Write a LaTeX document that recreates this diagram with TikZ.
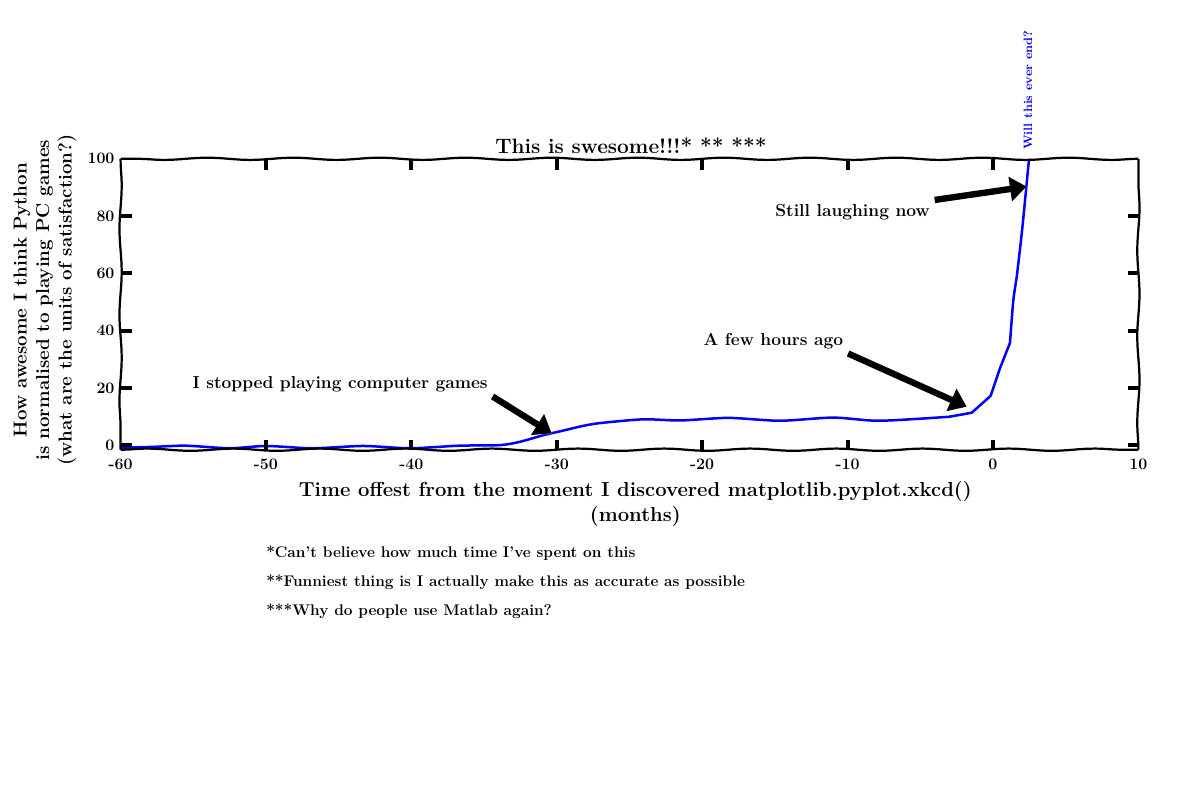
\documentclass[tikz,border=0pt]{standalone}
\usepackage{fontspec}
\usepackage{tikz}
\usetikzlibrary{arrows.meta, decorations.pathmorphing}
\definecolor{plotblue}{HTML}{0000FF}

\begin{document}
\begin{tikzpicture}[x=10.469pt, y=2.0635pt,
  spine/.style={line width=1.6pt, decorate, decoration={snake, amplitude=0.8pt, segment length=62pt}},
  tickbar/.style={line width=2.9pt},
  ticklbl/.style={font=\fontsize{11.5}{13}\selectfont\bfseries, inner sep=0pt},
  note/.style={font=\fontsize{12.5}{14}\selectfont\bfseries, anchor=base},
  foot/.style={font=\fontsize{11.1}{12}\selectfont\bfseries, anchor=base west, inner sep=0pt},
  fatarrow/.style={line width=4.6pt, -{Triangle[length=12pt,width=17pt]},
    preaction={draw=white, line width=7.5pt, -{Triangle[length=14pt,width=21pt]}}}]
\useasboundingbox (-68.294,-123.73) rectangle (14.237,155.41);
% curve
\draw[plotblue, line width=1.8pt, line join=round] plot[smooth, tension=0.45] coordinates {
  (-60,-0.8) (-57.7,-0.5) (-55.5,-0.1) (-52.5,-1.0) (-50,-0.2) (-46.8,-1.0) (-43.3,-0.2)
  (-40.1,-1.0) (-36.7,-0.1) (-33.9,0.1) (-32.5,1.3) (-30.9,3.6) (-29.7,5.0) (-28.2,6.8)
  (-27,7.8) (-24.05,9.1) (-21.5,8.7) (-18.2,9.6) (-14.65,8.6) (-11,9.7) (-7.8,8.6)
  (-3.0,10)} -- (-1.46,11.4) -- (-0.16,17.3) -- (0.48,26.9) -- (1.17,35.8)
  -- plot[smooth, tension=0.45] coordinates {(1.17,35.8) (1.4,50.7) (1.65,59.5)
  (2.0,75) (2.27,89) (2.48,100)};
% frame
\draw[spine] (-60,-1.5) -- (10,-1.5);
\draw[spine] (10,-1.5) -- (10,100);
\draw[spine] (10,100) -- (-60,100);
\draw[spine] (-60,100) -- (-60,-1.5);
% ticks
\foreach \t in {-50,-40,...,0} {
  \draw[tickbar] (\t,-1.5) -- (\t,2);
  \draw[tickbar] (\t,100) -- (\t,96);
}
\foreach \t in {0,20,...,80} {
  \draw[tickbar] (-60,\t) -- (-59.2,\t);
  \draw[tickbar] (10,\t) -- (9.3,\t);
}
\foreach \t in {-60,-50,...,10}
  \node[ticklbl, anchor=base] (x\t) at (\t,-8.5) {\t};
\foreach \t in {0,20,...,100}
  \node[ticklbl, anchor=east] (y\t) at (-60.4,\t) {\t};
% nodes
\node[note, font=\fontsize{15}{17}\selectfont\bfseries] (title) at (-24.9,102) {This is swesome!!!* ** ***};
\node[note] (stopped) at (-44.9,20) {I stopped playing computer games};
\node[note] (fewhours) at (-15.1,35) {A few hours ago};
\node[note] (laughing) at (-9.66,79.7) {Still laughing now};
\node[text=plotblue, font=\fontsize{8.7}{10}\selectfont\bfseries, rotate=90, anchor=west, inner sep=0pt] (willend) at (2.41,103) {Will this ever end?};
\node[align=center, font=\fontsize{14.6}{18}\selectfont\bfseries] (xlabel) at (-24.6,-20.4) {Time offest from the moment I discovered matplotlib.pyplot.xkcd()\\(months)};
\node[align=center, rotate=90, font=\fontsize{13.5}{16.2}\selectfont\bfseries] (ylabel) at (-65.2,50.7) {How awesome I think Python\\is normalised to playing PC games\\(what are the units of satisfaction?)};
\node[foot] (note1) at (-50,-39.2) {*Can't believe how much time I've spent on this};
\node[foot] (note2) at (-50,-49.3) {**Funniest thing is I actually make this as accurate as possible};
\node[foot] (note3) at (-50,-59.4) {***Why do people use Matlab again?};
% arrows
\coordinate (start30) at (-30.35,4.2);
\coordinate (jump) at (-1.81,13.5);
\coordinate (nearend) at (2.32,90.3);
\draw[fatarrow] (stopped.south east) -- (start30);
\draw[fatarrow] (fewhours.south east) -- (jump);
\draw[fatarrow] (laughing.north east) -- (nearend);
\end{tikzpicture}
\end{document}
